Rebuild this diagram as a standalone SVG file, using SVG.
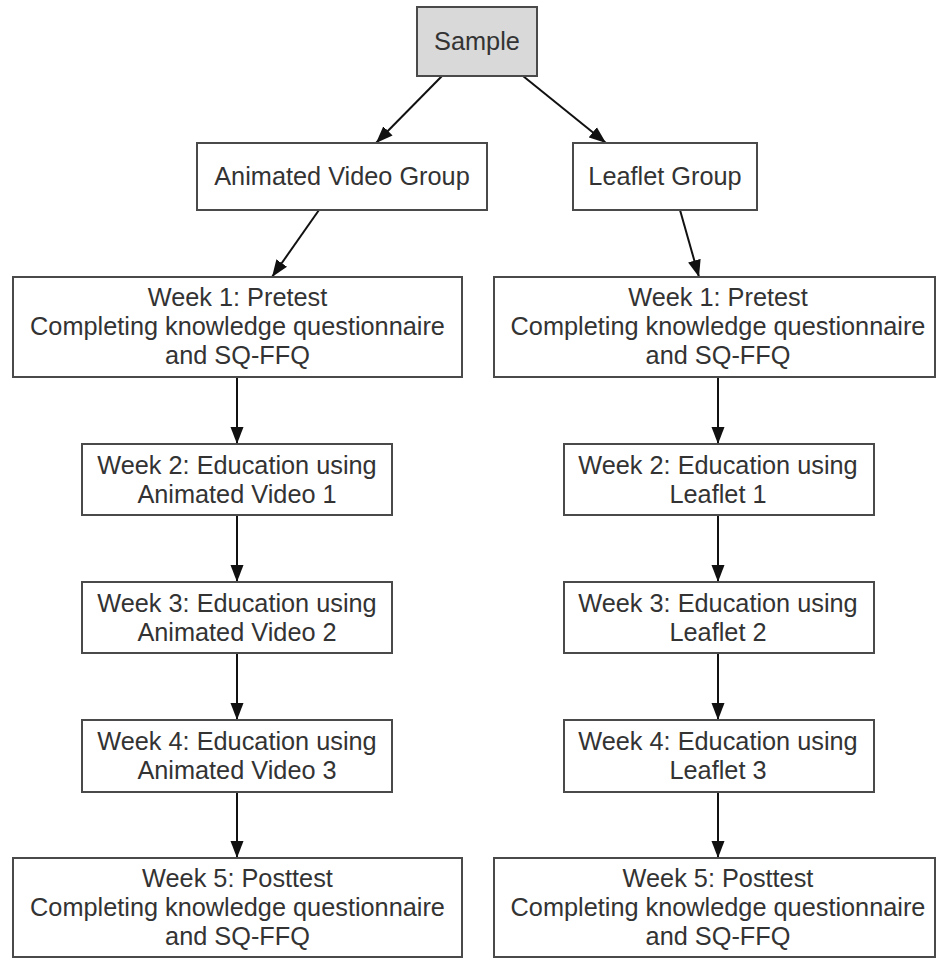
<svg xmlns="http://www.w3.org/2000/svg" width="936" height="958" viewBox="0 0 936 958">
<style>
.box{fill:#fff;stroke:#4a4a4a;stroke-width:2}
.gray{fill:#d9d9d9}
text{font-family:"Liberation Sans",Arial,sans-serif;font-size:25.3px;fill:#333;text-anchor:middle}
.edge{stroke:#111;stroke-width:2;fill:none;marker-end:url(#ah)}
</style>
<defs>
<marker id="ah" markerUnits="userSpaceOnUse" markerWidth="18" markerHeight="14" refX="17" refY="7" orient="auto">
<path d="M0,0.5 L17,7 L0,13.5 Z" fill="#111"/>
</marker>
</defs>
<rect width="936" height="958" fill="#fff"/>
<g id="connectors">
<line class="edge" x1="442" y1="76" x2="376" y2="143"/>
<line class="edge" x1="523" y1="76" x2="606" y2="143"/>
<line class="edge" x1="319" y1="210" x2="272" y2="277"/>
<line class="edge" x1="680" y1="210" x2="699" y2="277"/>
<line class="edge" x1="237" y1="377" x2="237" y2="444"/>
<line class="edge" x1="237" y1="515" x2="237" y2="582"/>
<line class="edge" x1="237" y1="653" x2="237" y2="720"/>
<line class="edge" x1="237" y1="792" x2="237" y2="858"/>
<line class="edge" x1="718" y1="377" x2="718" y2="444"/>
<line class="edge" x1="718" y1="515" x2="718" y2="582"/>
<line class="edge" x1="718" y1="653" x2="718" y2="720"/>
<line class="edge" x1="718" y1="792" x2="718" y2="858"/>
</g>
<g id="sample"><rect class="box gray" x="417" y="7" width="120" height="69"/><text x="477" y="50">Sample</text></g>
<g id="avg"><rect class="box" x="197" y="143" width="290" height="67"/><text x="342" y="185">Animated Video Group</text></g>
<g id="lg"><rect class="box" x="573" y="143" width="184" height="67"/><text x="665" y="185">Leaflet Group</text></g>
<g id="l1"><rect class="box" x="13" y="277" width="449" height="100"/><text x="237.5" y="306">Week 1: Pretest</text><text x="237.5" y="335">Completing knowledge questionnaire</text><text x="237.5" y="364">and SQ-FFQ</text></g>
<g id="r1"><rect class="box" x="494" y="277" width="441" height="100"/><text x="718" y="306">Week 1: Pretest</text><text x="718" y="335">Completing knowledge questionnaire</text><text x="718" y="364">and SQ-FFQ</text></g>
<g id="l2"><rect class="box" x="82" y="444" width="310" height="71"/><text x="237" y="474">Week 2: Education using</text><text x="237" y="503">Animated Video 1</text></g>
<g id="r2"><rect class="box" x="564" y="444" width="310" height="71"/><text x="718" y="474">Week 2: Education using</text><text x="718" y="503">Leaflet 1</text></g>
<g id="l3"><rect class="box" x="82" y="582" width="310" height="71"/><text x="237" y="612">Week 3: Education using</text><text x="237" y="641">Animated Video 2</text></g>
<g id="r3"><rect class="box" x="564" y="582" width="310" height="71"/><text x="718" y="612">Week 3: Education using</text><text x="718" y="641">Leaflet 2</text></g>
<g id="l4"><rect class="box" x="82" y="720" width="310" height="72"/><text x="237" y="750">Week 4: Education using</text><text x="237" y="779">Animated Video 3</text></g>
<g id="r4"><rect class="box" x="564" y="720" width="310" height="72"/><text x="718" y="750">Week 4: Education using</text><text x="718" y="779">Leaflet 3</text></g>
<g id="l5"><rect class="box" x="13" y="858" width="449" height="99"/><text x="237.5" y="887">Week 5: Posttest</text><text x="237.5" y="916">Completing knowledge questionnaire</text><text x="237.5" y="945">and SQ-FFQ</text></g>
<g id="r5"><rect class="box" x="494" y="858" width="441" height="99"/><text x="718" y="887">Week 5: Posttest</text><text x="718" y="916">Completing knowledge questionnaire</text><text x="718" y="945">and SQ-FFQ</text></g>
</svg>
